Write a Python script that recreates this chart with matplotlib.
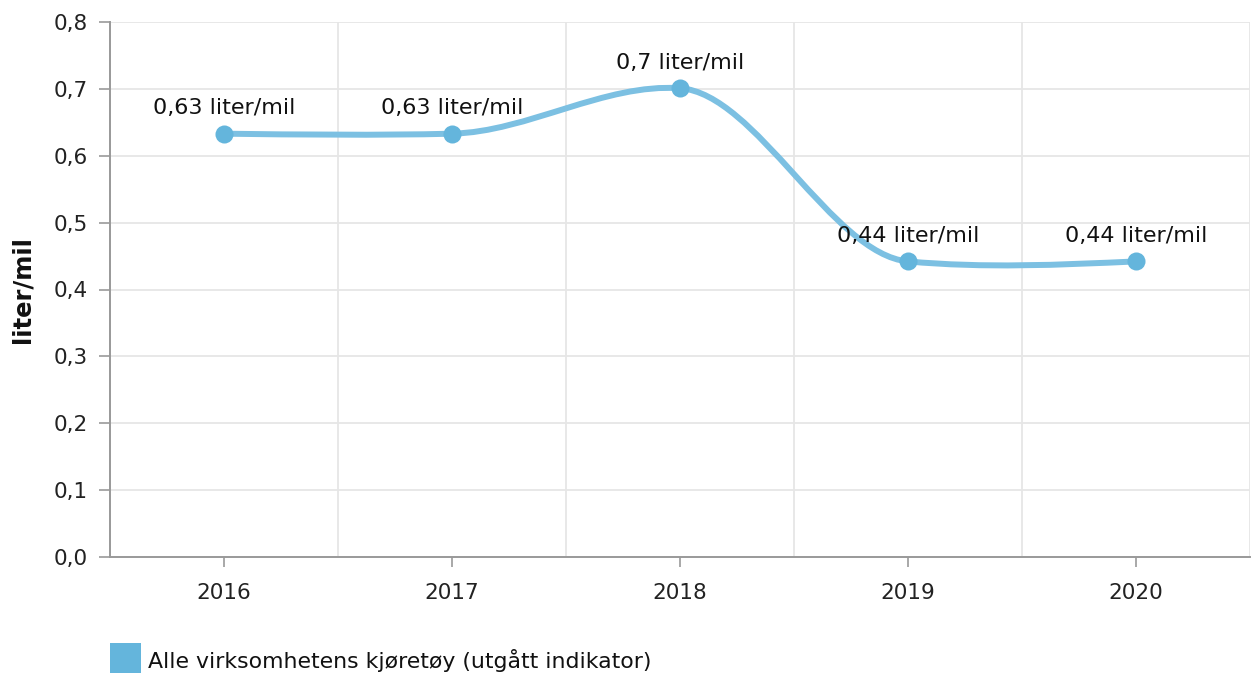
import numpy as np
import matplotlib
matplotlib.use("Agg")
import matplotlib.pyplot as plt
from matplotlib.path import Path
from matplotlib.patches import PathPatch, Rectangle

# data
years = ["2016", "2017", "2018", "2019", "2020"]
values = [0.633, 0.633, 0.701, 0.442, 0.442]
labels = ["0,63 liter/mil", "0,63 liter/mil", "0,7 liter/mil", "0,44 liter/mil", "0,44 liter/mil"]
yticks = [0.0, 0.1, 0.2, 0.3, 0.4, 0.5, 0.6, 0.7, 0.8]
ytick_labels = ["0,0", "0,1", "0,2", "0,3", "0,4", "0,5", "0,6", "0,7", "0,8"]
series_name = "Alle virksomhetens kjøretøy (utgått indikator)"

line_color = "#7cc0e2"
marker_color = "#64b5dc"
grid_color = "#e6e6e6"
axis_color = "#999999"

plt.rcParams['font.family'] = ['DejaVu Sans']

fig = plt.figure(figsize=(12.53, 6.73), dpi=100)
ax = fig.add_axes([110 / 1253, 1 - 557 / 673, 1140 / 1253, 535 / 673])

x = np.arange(len(values), dtype=float)
y = np.array(values, dtype=float)


def smooth_path(xs, ys, c=0.24):
    # cardinal-style hermite curve, natural ends, converted to bezier segments
    n = len(xs)
    m = np.zeros(n)
    for i in range(1, n - 1):
        m[i] = c * (ys[i + 1] - ys[i - 1]) / (xs[i + 1] - xs[i - 1])
    m[0] = -m[1] / 2
    m[-1] = -m[-2] / 2
    verts = [(xs[0], ys[0])]
    codes = [Path.MOVETO]
    for i in range(n - 1):
        h = xs[i + 1] - xs[i]
        verts += [(xs[i] + h / 3, ys[i] + m[i] * h / 3),
                  (xs[i + 1] - h / 3, ys[i + 1] - m[i + 1] * h / 3),
                  (xs[i + 1], ys[i + 1])]
        codes += [Path.CURVE4] * 3
    return Path(verts, codes)


ax.add_patch(PathPatch(smooth_path(x, y), facecolor="none", edgecolor=line_color,
                       lw=4.3, capstyle="round", joinstyle="round", zorder=3))
ax.plot(x, y, linestyle="none", marker="o", markersize=13, color=marker_color,
        markeredgewidth=0, zorder=4)

for xi, yi, lab in zip(x, y, labels):
    ax.annotate(lab, (xi, yi), xytext=(0, 11), textcoords="offset points",
                ha="center", va="bottom", fontsize=16, color="#111111", zorder=5)

ax.set_xlim(-0.5, len(values) - 0.5)
ax.set_ylim(0, 0.8)

ax.set_yticks(yticks)
ax.set_yticklabels(ytick_labels, fontsize=15.5, color="#222222")
ax.set_xticks(x)
ax.set_xticklabels(years, fontsize=15.5, color="#222222")
ax.set_xticks(np.arange(-0.5, len(values)), minor=True)

ax.tick_params(axis="y", length=8, width=1.2, color=axis_color, pad=8)
ax.tick_params(axis="x", which="major", length=7, width=1.2, color=axis_color, pad=12)
ax.tick_params(axis="x", which="minor", length=0)

ax.grid(axis="y", which="major", color=grid_color, lw=1.3, zorder=0)
ax.grid(axis="x", which="minor", color=grid_color, lw=1.3, zorder=0)
ax.grid(axis="x", which="major", visible=False)
ax.set_axisbelow(True)

for side in ["top", "right"]:
    ax.spines[side].set_visible(False)
ax.spines["left"].set_color(axis_color)
ax.spines["bottom"].set_color(axis_color)
ax.spines["left"].set_linewidth(1.4)
ax.spines["bottom"].set_linewidth(1.4)

ax.set_ylabel("liter/mil", fontsize=17.5, fontweight="bold", color="#111111", labelpad=14)

# legend
fig.patches.append(Rectangle((110 / 1253, 0), 31 / 1253, 30 / 673, transform=fig.transFigure,
                             facecolor=marker_color, edgecolor="none"))
fig.text(148 / 1253, 1 - 660 / 673, series_name, fontsize=15.8, color="#111111",
         ha="left", va="center")

plt.savefig("out.png", dpi=100)
